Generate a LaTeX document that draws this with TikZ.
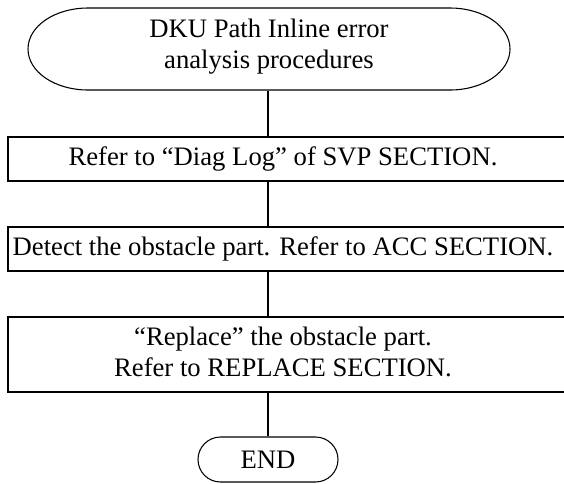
\documentclass[tikz,border=0pt]{standalone}
\usepackage{fontspec}
\setmainfont{Liberation Serif}
\begin{document}
\begin{tikzpicture}[x=0.75pt,y=-0.75pt,
  line width=0.8pt,
  txt/.style={font=\fontsize{20}{23.25}\selectfont, align=center, inner sep=0pt},
  procbox/.style={draw, minimum width=418.5pt, inner sep=0pt},
  conn/.style={draw, line width=0.8pt}
]
\useasboundingbox (0,0) rectangle (564,483);
% start terminator
\node[minimum width=361.5pt, minimum height=61.5pt, inner sep=0pt] (start) at (269,49) {};
\draw (88,8) .. controls (55,8) and (28,26) .. (28,49)
      .. controls (28,72) and (55,90) .. (88,90) -- (450,90)
      .. controls (483,90) and (510,72) .. (510,49)
      .. controls (510,26) and (483,8) .. (450,8) -- cycle;
\node[txt] (tstart) at (269,47) {DKU Path Inline error\\analysis procedures};
% boxes
\node[procbox, minimum height=33pt] (b1) at (287,159) {};
\node[txt] (t1) at (283,159) {Refer to “Diag Log” of SVP SECTION.};
\node[procbox, minimum height=33pt] (b2) at (287,249) {};
\node[txt] (t2) at (283,249) {Detect the obstacle part. Refer to ACC SECTION.};
\node[procbox, minimum height=56.25pt] (b3) at (287,354.5) {};
\node[txt] (t3) at (283,352) {“Replace” the obstacle part.\\Refer to REPLACE SECTION.};
% end
\node[draw, rounded corners=16.875pt, minimum width=105pt, minimum height=33.75pt, inner sep=0pt, font=\fontsize{20}{23.25}\selectfont] (end) at (268,459.5) {END};
% connectors
\draw[conn] (start.south -| end.north) -- (end.north |- b1.north);
\draw[conn] (end.north |- b1.south) -- (end.north |- b2.north);
\draw[conn] (end.north |- b2.south) -- (end.north |- b3.north);
\draw[conn] (end.north |- b3.south) -- (end.north);
\end{tikzpicture}
\end{document}
